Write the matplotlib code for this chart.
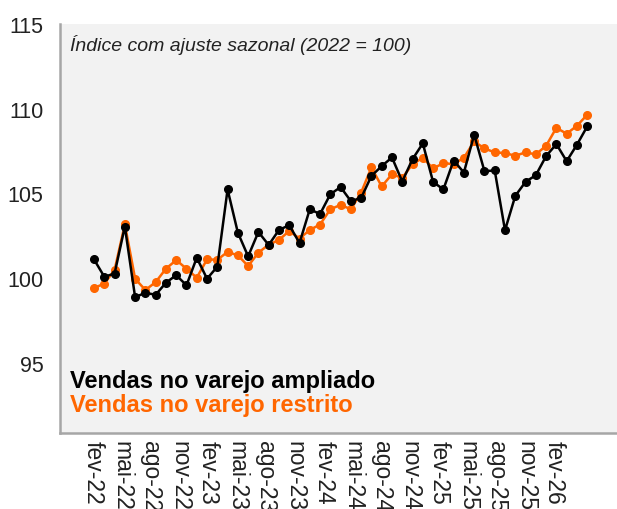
import matplotlib
matplotlib.use("Agg")
import matplotlib.pyplot as plt
import numpy as np

plt.rcParams['font.family'] = ['Liberation Sans', 'DejaVu Sans']

tick_labels = ["fev-22", "mai-22", "ago-22", "nov-22", "fev-23", "mai-23", "ago-23", "nov-23",
               "fev-24", "mai-24", "ago-24", "nov-24", "fev-25", "mai-25", "ago-25", "nov-25", "fev-26"]

ampliado = [101.15, 100.13, 100.31, 103.09, 98.92, 99.18, 99.06, 99.77, 100.22, 99.62, 101.25, 100.01,
            100.72, 105.28, 102.73, 101.33, 102.77, 102.00, 102.89, 103.17, 102.12, 104.11, 103.83, 105.00,
            105.42, 104.59, 104.78, 106.08, 106.66, 107.17, 105.75, 107.07, 108.00, 105.73, 105.28, 106.99,
            106.28, 108.52, 106.36, 106.40, 102.87, 104.90, 105.73, 106.12, 107.25, 107.96, 106.95, 107.92,
            109.00]

restrito = [99.46, 99.72, 100.52, 103.22, 100.01, 99.34, 99.81, 100.60, 101.11, 100.60, 100.07, 101.15,
            101.13, 101.59, 101.39, 100.76, 101.55, 102.02, 102.30, 102.83, 102.38, 102.89, 103.21, 104.11,
            104.37, 104.11, 105.10, 106.58, 105.46, 106.18, 105.96, 106.78, 107.15, 106.52, 106.83, 106.78,
            107.15, 108.12, 107.70, 107.47, 107.43, 107.27, 107.47, 107.35, 107.86, 108.92, 108.57, 109.04,
            109.69]

yticks = [95, 100, 105, 110, 115]

black = "#000000"
orange = "#FF6600"

fig = plt.figure(figsize=(6.17, 5.09), dpi=100)
ax = fig.add_axes([60/617, 76/509, 557/617, 409/509])
ax.set_facecolor("#F2F2F2")

x = np.arange(len(ampliado))
ax.plot(x, restrito, color=orange, lw=1.8, marker="o", ms=5.5, zorder=2)
ax.plot(x, ampliado, color=black, lw=1.8, marker="o", ms=5.5, zorder=3)

ax.set_xlim(-3.31, 50.9)
ax.set_ylim(90.9, 115.05)

ax.set_yticks(yticks)
ax.set_yticklabels([str(v) for v in yticks], fontsize=15.5, color="#222222")
tick_pos = np.linspace(-0.1, 44.8, len(tick_labels))
ax.set_xticks(tick_pos)
ax.set_xticklabels(tick_labels, rotation=-90, fontsize=16.5, color="#222222", va="top", ha="center")
ax.tick_params(axis="both", length=0)
ax.tick_params(axis="y", pad=12)
ax.tick_params(axis="x", pad=6)

for s in ["top", "right"]:
    ax.spines[s].set_visible(False)
for s in ["left", "bottom"]:
    ax.spines[s].set_color("#A6A6A6")
    ax.spines[s].set_linewidth(1.8)

ax.text(0.018, 0.949, "Índice com ajuste sazonal (2022 = 100)", transform=ax.transAxes,
        fontsize=14, style="italic", color="#222222", va="center", ha="left")
ax.text(0.018, 0.127, "Vendas no varejo ampliado", transform=ax.transAxes,
        fontsize=17, fontweight="bold", color=black, va="center", ha="left")
ax.text(0.018, 0.068, "Vendas no varejo restrito", transform=ax.transAxes,
        fontsize=17, fontweight="bold", color=orange, va="center", ha="left")

fig.savefig("out.png", dpi=100)
